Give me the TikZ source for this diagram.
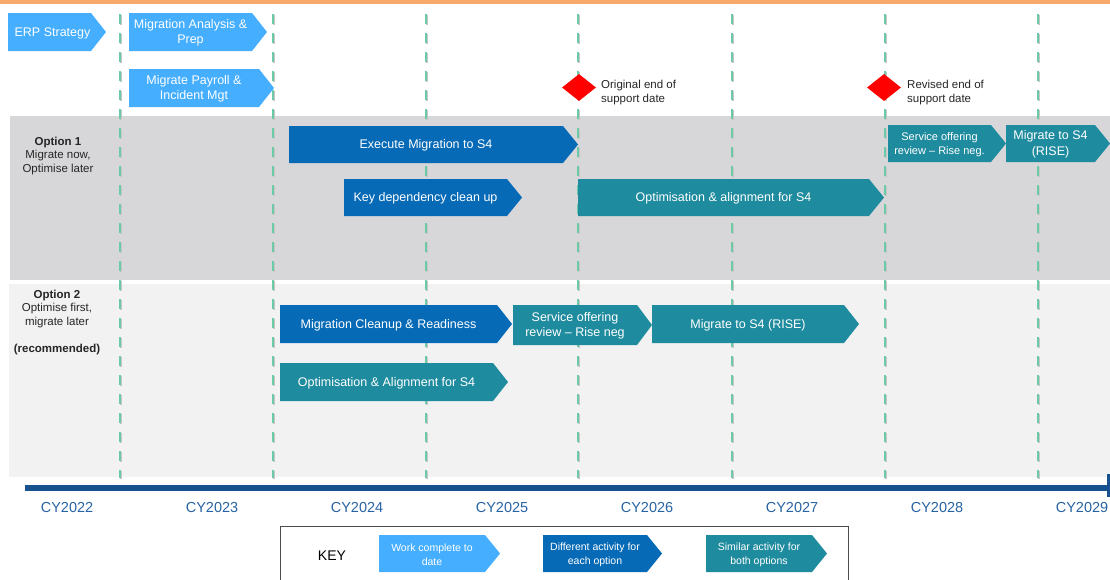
\documentclass[tikz,border=0pt]{standalone}
\usepackage{fontspec}
\setmainfont{Liberation Sans}
\usepackage{tikz}
\usepackage{xcolor}
\usetikzlibrary{positioning,shapes.geometric}

\definecolor{donecol}{HTML}{45AEFF}
\definecolor{diffcol}{HTML}{066AB6}
\definecolor{samecol}{HTML}{1E8B9E}
\definecolor{gridcol}{HTML}{6CCBA6}
\definecolor{yearcol}{HTML}{2763A3}
\definecolor{barcol}{HTML}{17528F}
\definecolor{opt1col}{HTML}{D7D7D9}
\definecolor{opt2col}{HTML}{F2F2F2}
\definecolor{topcol}{HTML}{F6A96B}
\definecolor{labelcol}{HTML}{262626}

% chevron: [node options], name, left, tip, top, bottom, colour, text
\newcommand{\chev}[8][]{%
  \fill [#7] (#3,#5) -- ({#4-15},#5) -- (#4,{(#5+#6)/2}) -- ({#4-15},#6) -- (#3,#6) -- cycle;
  \node [chevtext,#1] (#2) at ({(#3+#4-15)/2},{(#5+#6)/2}) {#8};
}

\begin{document}
\begin{tikzpicture}[x=1pt,y=-1pt]
\tikzstyle{every node}+=[inner sep=0pt]
\tikzstyle{chevtext}=[text=white, align=center, yshift=-1pt, font=\fontsize{12.5}{15.5}\selectfont]
\tikzstyle{keyfont}=[font=\fontsize{10.5}{14}\selectfont]
\tikzstyle{optlabel}=[text=labelcol, align=center, anchor=north, font=\fontsize{11.5}{13.8}\selectfont]
\tikzstyle{notetext}=[text=labelcol, align=left, anchor=west, font=\fontsize{11.5}{14}\selectfont]
\tikzstyle{yeartext}=[text=yearcol, font=\fontsize{14.5}{16}\selectfont]
\tikzstyle{enddate}=[diamond, fill=red, minimum width=34, minimum height=27]
\useasboundingbox (0,0) rectangle (1110,579);
% background
\fill [topcol] (0,0) rectangle (1110,4);
\fill [opt1col] (10,116) rectangle (1110,280);
\fill [opt2col] (9,284) rectangle (1110,477);
% year grid
\foreach \gx in {120,273,426,578,732,885,1038} {
  \draw [gray!45, line width=2.5pt, dash pattern=on 10pt off 9pt] (\gx+1.2,15.2) -- (\gx+1.2,479.2);
  \draw [gridcol, line width=2.5pt, dash pattern=on 10pt off 9pt] (\gx,14) -- (\gx,478);
}
% timeline
\fill [barcol] (25,485) rectangle (1110,491);
\fill [barcol] (1107,474) rectangle (1110,497);
\foreach \yr [count=\i from 0] in {2022,2023,2024,2025,2026,2027,2028,2029}
  \node [yeartext] (cy\yr) at ({67+145*\i},507) {CY\yr};
% work done
\chev[xshift=3pt]{erp}{8}{106}{13}{51}{donecol}{ERP Strategy}
\chev{analysis}{129}{267}{13}{51}{donecol}{Migration Analysis \&\\Prep}
\chev{payroll}{129}{274}{69}{107}{donecol}{Migrate Payroll \&\\Incident Mgt}
% end of support
\node [enddate] (origend) at (579,87.5) {};
\node [notetext] (origtext) at (601,92.5) {Original end of\\support date};
\node [enddate] (revend) at (884,87.5) {};
\node [notetext] (revtext) at (907,92.5) {Revised end of\\support date};
% option 1
\node [optlabel] (opt1) at (58,136.5) {\textbf{Option 1}\\Migrate now,\\Optimise later};
\chev{execute}{289}{578}{126}{163}{diffcol}{Execute Migration to S4}
\chev{keydep}{344}{522}{179}{216}{diffcol}{Key dependency clean up}
\chev{optalign}{578}{884}{179}{216}{samecol}{Optimisation \& alignment for S4}
\chev[font=\fontsize{11}{14}\selectfont]{review}{888}{1006}{125}{162}{samecol}{Service offering\\review -- Rise neg.}
\chev{riseone}{1006}{1110}{125}{162}{samecol}{Migrate to S4\\(RISE)}
% option 2
\node [optlabel] (opt2) at (57,289.5) {\textbf{Option 2}\\Optimise first,\\migrate later\\[13.5pt]\textbf{(recommended)}};
\chev{cleanup}{280}{512}{305}{343}{diffcol}{Migration Cleanup \& Readiness}
\chev{reviewtwo}{513}{652}{305}{345}{samecol}{Service offering\\review -- Rise neg}
\chev{risetwo}{652}{859}{305}{343}{samecol}{Migrate to S4 (RISE)}
\chev{optaligntwo}{280}{508}{363}{401}{samecol}{Optimisation \& Alignment for S4}
% key
\draw [gray!60!black, line width=1pt] (280,580) -- (280,526) -- (848,526) -- (848,580);
\node [text=black, font=\fontsize{14}{16}\selectfont] (key) at (332,556) {KEY};
\chev[keyfont]{keydone}{379}{500}{535}{572}{donecol}{Work complete to\\date}
\chev[keyfont]{keydiff}{543}{662}{535}{572}{diffcol}{Different activity for\\each option}
\chev[keyfont]{keysame}{706}{827}{535}{572}{samecol}{Similar activity for\\both options}
\end{tikzpicture}
\end{document}
